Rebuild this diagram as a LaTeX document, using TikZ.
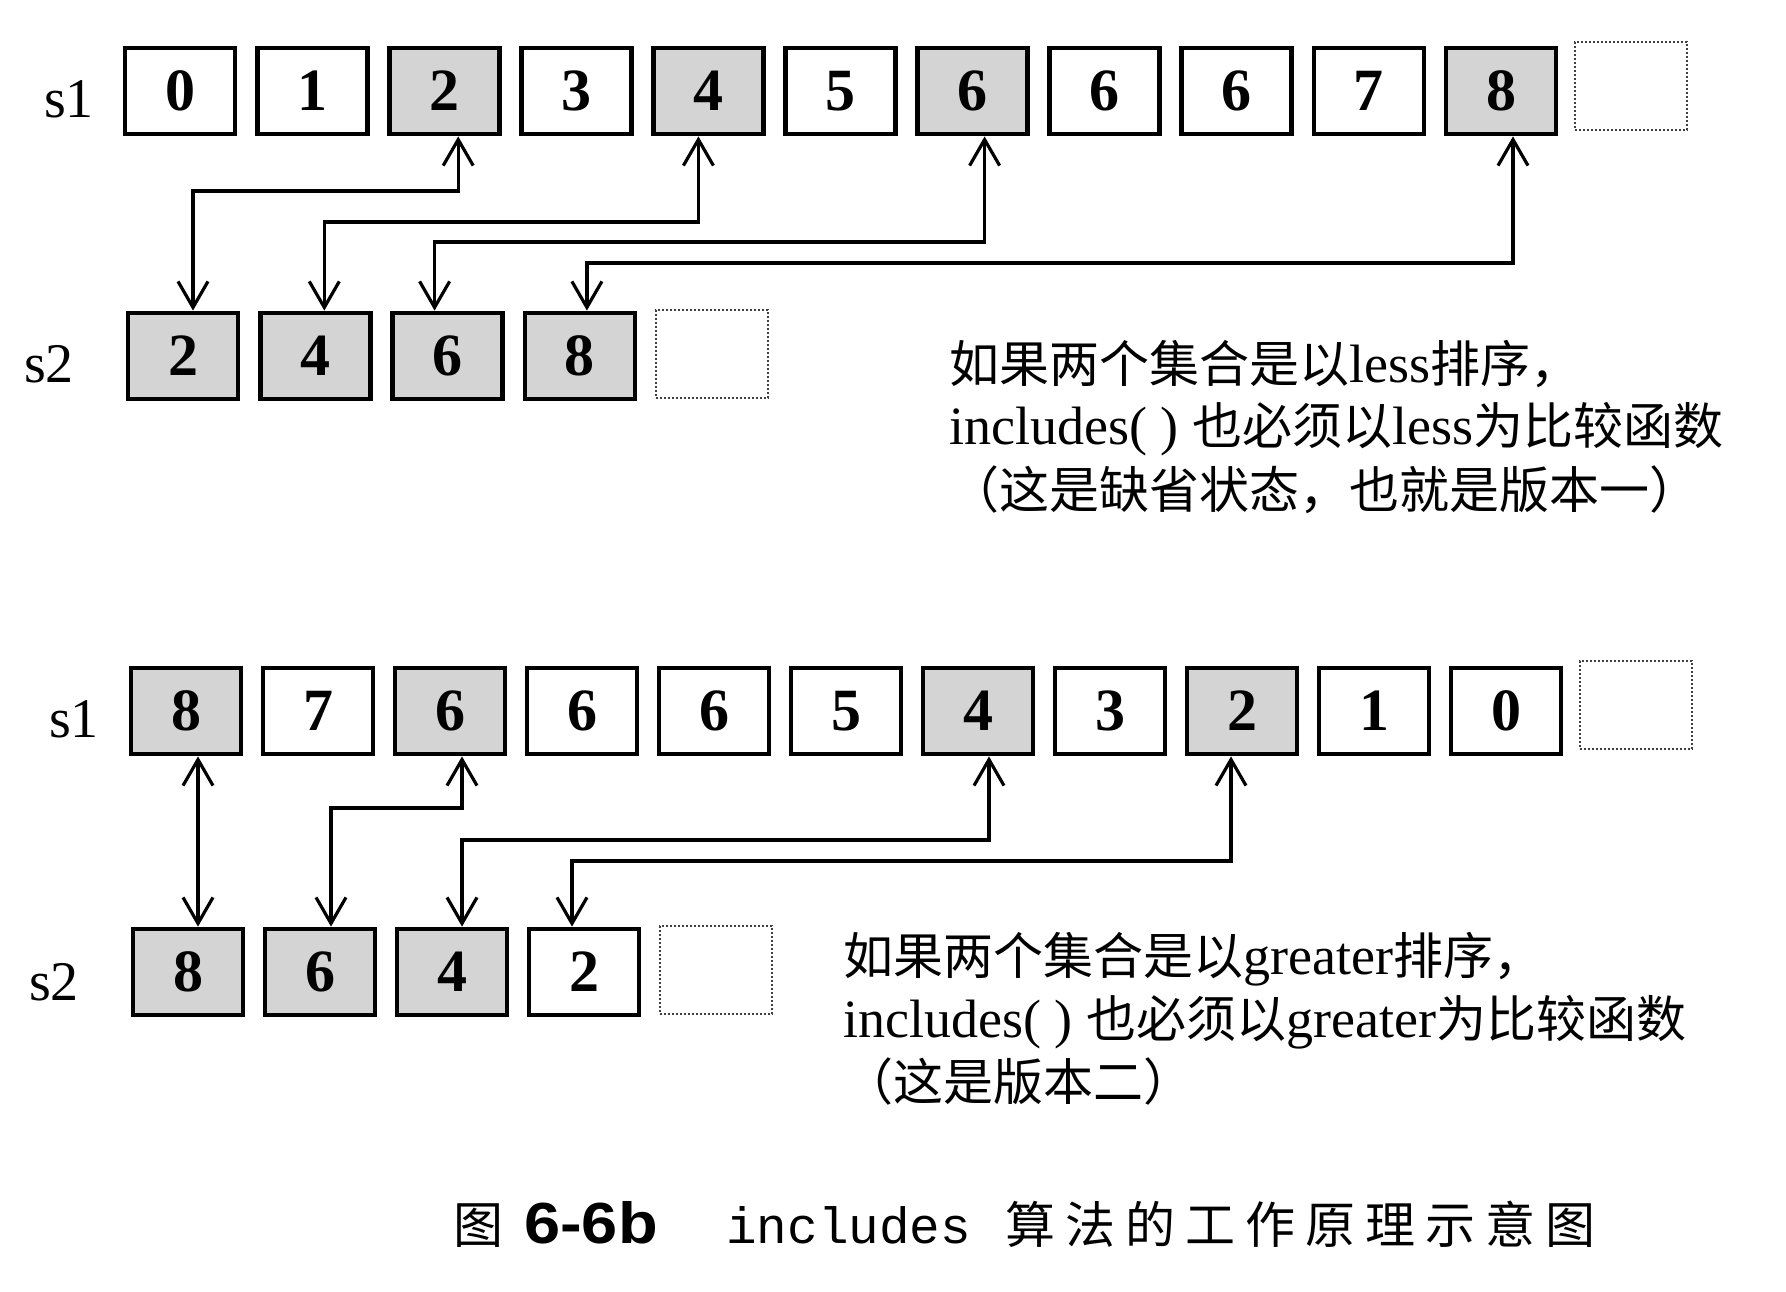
\documentclass[tikz,border=0pt]{standalone}
\usepackage{fontspec}
\setmainfont{Liberation Serif}
\newfontfamily\cjk{Noto Sans CJK SC}
\newfontfamily\hv{Liberation Sans}[FakeStretch=1.12]
\newfontfamily\cour{Liberation Mono}
\usetikzlibrary{arrows.meta,calc}
\newcommand{\zh}[1]{{\cjk\fontsize{50}{54}\selectfont #1}}
\tikzset{
  cell/.style={draw, line width=4.8pt, minimum width=110pt, minimum height=86pt, inner sep=0pt,
               font=\fontsize{60}{60}\selectfont\bfseries},
  hit/.style={cell, fill=black!17},
  spare/.style={draw=black!75, line width=1.6pt, dash pattern=on 1.6pt off 2.4pt,
                minimum width=112pt, minimum height=88pt, inner sep=0pt},
  lbl/.style={anchor=base west, inner sep=0pt, font=\fontsize{56}{60}\selectfont},
  note/.style={anchor=base west, inner sep=0pt, font=\fontsize{54}{60}\selectfont},
  capt/.style={anchor=base west, inner sep=0pt},
  conn/.style={line width=3.2pt, {Straight Barb[length=26pt,width=30pt]}-{Straight Barb[length=26pt,width=30pt]}},
}
\begin{document}
\begin{tikzpicture}[x=1pt,y=-1pt]
\useasboundingbox (0,0) rectangle (1786,1292);
\fill[white] (0,0) rectangle (1786,1292);

% ---------- upper figure ----------
\node[lbl] (l1) at (44,118) {s1};
\node[lbl] (l2) at (24,382) {s2};
\foreach \v/\s [count=\i from 0] in {0/cell,1/cell,2/hit,3/cell,4/hit,5/cell,6/hit,6/cell,6/cell,7/cell,8/hit}
  \node[\s] (a\i) at ({180+132.1*\i},91) {\v};
\node[spare] (a11) at (1631,86) {};
\foreach \v [count=\i from 0] in {2,4,6,8}
  \node[hit] (b\i) at ({183+132.3*\i},356) {\v};
\node[spare] (b4) at (712,354) {};

\coordinate (yA) at (0,191);
\coordinate (yB) at (0,222);
\coordinate (yC) at (0,242);
\coordinate (yD) at (0,263);
\coordinate (pA1) at ($(a2.south)+(14,0)$);
\coordinate (pA2) at ($(b0.north)+(10,0)$);
\coordinate (pB1) at ($(a4.south)+(-10,0)$);
\coordinate (pB2) at ($(b1.north)+(9,0)$);
\coordinate (pC1) at ($(a6.south)+(12,0)$);
\coordinate (pC2) at ($(b2.north)+(-13,0)$);
\coordinate (pD1) at ($(a10.south)+(12,0)$);
\coordinate (pD2) at ($(b3.north)+(7,0)$);
\draw[conn] (pA1) -- (pA1 |- yA) -- (pA2 |- yA) -- (pA2);
\draw[conn] (pB1) -- (pB1 |- yB) -- (pB2 |- yB) -- (pB2);
\draw[conn] (pC1) -- (pC1 |- yC) -- (pC2 |- yC) -- (pC2);
\draw[conn] (pD1) -- (pD1 |- yD) -- (pD2 |- yD) -- (pD2);

\node[note] (t1) at (949,382) {\zh{如果两个集合是以}less\zh{排序，}};
\node[note] (t2) at (949,444) {includes( ) \zh{也必须以}less\zh{为比较函数}};
\node[note] (t3) at (949,508) {\zh{（这是缺省状态，也就是版本一）}};

% ---------- lower figure ----------
\node[lbl] (l3) at (49,737) {s1};
\node[lbl] (l4) at (29,1000) {s2};
\foreach \v/\s [count=\i from 0] in {8/hit,7/cell,6/hit,6/cell,6/cell,5/cell,4/hit,3/cell,2/hit,1/cell,0/cell}
  \node[\s] (c\i) at ({186+132*\i},711) {\v};
\node[spare] (c11) at (1636,705) {};
\foreach \v/\s [count=\i from 0] in {8/hit,6/hit,4/hit,2/cell}
  \node[\s] (d\i) at ({188+132*\i},972) {\v};
\node[spare] (d4) at (716,970) {};

\coordinate (zB) at (0,808);
\coordinate (zC) at (0,840);
\coordinate (zD) at (0,861);
\coordinate (qA1) at ($(c0.south)+(12,0)$);
\coordinate (qA2) at (qA1 |- d0.north);
\coordinate (qB1) at ($(c2.south)+(12,0)$);
\coordinate (qB2) at ($(d1.north)+(11,0)$);
\coordinate (qC1) at ($(c6.south)+(11,0)$);
\coordinate (qC2) at ($(d2.north)+(10,0)$);
\coordinate (qD1) at ($(c8.south)+(-11,0)$);
\coordinate (qD2) at ($(d3.north)+(-12,0)$);
\draw[conn] (qA1) -- (qA2);
\draw[conn] (qB1) -- (qB1 |- zB) -- (qB2 |- zB) -- (qB2);
\draw[conn] (qC1) -- (qC1 |- zC) -- (qC2 |- zC) -- (qC2);
\draw[conn] (qD1) -- (qD1 |- zD) -- (qD2 |- zD) -- (qD2);

\node[note] (t4) at (843,974) {\zh{如果两个集合是以}greater\zh{排序，}};
\node[note] (t5) at (843,1037) {includes( ) \zh{也必须以}greater\zh{为比较函数}};
\node[note] (t6) at (843,1100) {\zh{（这是版本二）}};

% ---------- caption ----------
\node[capt] (k1) at (453,1243) {\cjk\fontsize{50}{50}\selectfont 图};
\node[capt] (k2) at (524,1243) {\hv\bfseries\fontsize{58}{58}\selectfont 6-6b};
\node[capt] (k3) at (726,1243) {\cour\fontsize{51}{51}\selectfont includes};
\node[capt] (k4) at (1005,1243) {\cjk\fontsize{50}{50}\selectfont\makebox[590pt][s]{算\hfill 法\hfill 的\hfill 工\hfill 作\hfill 原\hfill 理\hfill 示\hfill 意\hfill 图}};
\end{tikzpicture}
\end{document}
